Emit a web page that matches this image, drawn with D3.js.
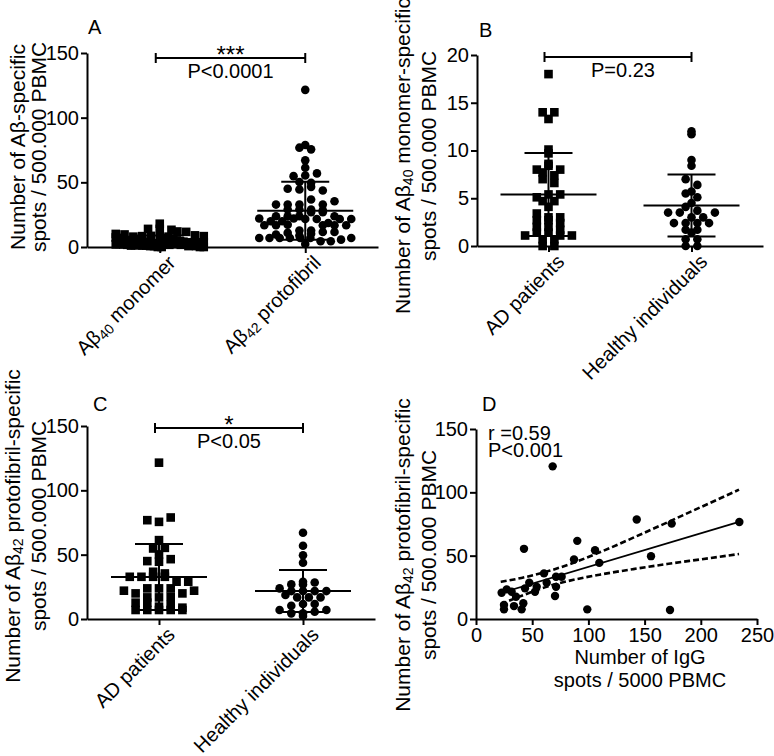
<!DOCTYPE html>
<html>
<head>
<meta charset="utf-8">
<script src="https://cdn.jsdelivr.net/npm/d3@7"></script>
<style>
body { margin: 0; background: #fff; }
svg { font-family: "Liberation Sans", Arial, sans-serif; }
</style>
</head>
<body>
<svg id="chart" width="774" height="756"></svg>
<script>
// Abeta40 monomer-specific spots (panel B), per group
const monomerAD = [18.0, 14.0, 14.0, 13.3, 10.1, 9.7, 8.0, 8.4, 8.6, 7.7, 8.0, 7.4, 7.0, 6.6,
	5.1, 4.7, 5.4, 5.4, 4.7, 4.1, 3.4, 3.0, 2.7, 2.7, 3.0, 2.0, 2.4, 2.0, 1.7, 1.1, 1.4, 1.4,
	1.1, 1.1, 0.7, 0.7, 0, 0];
const monomerHealthy = [12.0, 11.7, 9.0, 8.4, 7.0, 6.4, 5.7, 5.5, 5.1, 4.5, 4.1, 3.5, 3.5, 3.0,
	3.0, 3.5, 3.7, 2.4, 1.7, 2.4, 2.4, 1.7, 2.4, 0.7, 1.4, 0.7, 0, 0];

// Abeta42 protofibril-specific spots (panel C), per group
const protoAD = [121.5, 76.8, 75.5, 78.9, 61.3, 50.2, 54.8, 55.3, 45.0, 44.5, 46.5, 32.8, 32.8,
	32.8, 36.7, 32.8, 35.4, 29.0, 29.0, 22.0, 19.9, 23.8, 23.8, 23.8, 19.9, 22.0, 16.8, 16.8,
	17.3, 12.7, 12.7, 9.6, 7.0, 7.0, 10.9, 7.0, 7.0, 7.0, 8.8];
const protoHealthy = [67.0, 56.9, 49.6, 43.7, 29.0, 26.9, 26.9, 28.4, 23.8, 21.7, 21.7, 18.6,
	16.8, 16.8, 16.8, 21.7, 21.7, 10.3, 11.6, 11.6, 7.0, 4.4, 2.3, 4.4, 5.7, 7.0];

// mean and SD bars as drawn
const meanA = [4.9, 28.1], sdA = [3.9, 22.4];
const meanB = [5.4, 4.25], sdB = [4.35, 3.25];
const meanC = [32.6, 21.7], sdC = [25.6, 16.3];

// panel D: IgG spots vs protofibril spots
const iggSpots = [68.2, 42.7, 90.1, 105.9, 109.7, 87.2, 60.5, 71.2, 76.2, 47.4, 62.9, 22.8, 27.3,
	31.7, 43.6, 35.6, 52.5, 54.0, 71.2, 70.3, 24.9, 24.9, 33.8, 40.6, 42.1, 99.0, 143.0, 174.1,
	234.3, 155.7, 172.6];
const protoSpotsD = [120.5, 55.4, 61.7, 54.3, 44.3, 47.0, 36.0, 33.3, 33.3, 28.6, 28.6, 20.7, 23.4,
	21.5, 24.2, 17.6, 21.5, 25.4, 25.4, 18.1, 11.0, 7.6, 10.2, 7.6, 12.4, 7.6, 78.5, 75.3,
	76.6, 49.6, 7.1];

// regression line and 95% band
const fitX = [22, 234];
const fitY = [20.5, 76.7];
const bandX = [22, 44, 66, 88, 110, 140, 170, 200, 234];
const bandUpper = [29.3, 33.1, 38.2, 44.8, 52.6, 64.2, 76.2, 88.3, 102.1];
const bandLower = [11.7, 19.5, 26.3, 31.2, 35.0, 39.4, 43.4, 47.1, 51.3];

const ticks150 = [0, 50, 100, 150];
const ticks20 = [0, 5, 10, 15, 20];
const ticksD = [0, 50, 100, 150, 200, 250];

const svg = d3.select("#chart");
const FONT = 20;

// text with "_{..}" subscripts
function rich(t, str) {
	const parts = str.split(/(_\{[^}]*\})/).filter(function(s) { return s.length; });
	let shifted = false;
	parts.forEach(function(p) {
		if (p.startsWith("_{")) {
			t.append("tspan").attr("font-size", 14).attr("dy", 3).text(p.slice(2, -1));
			shifted = true;
		} else {
			t.append("tspan").attr("dy", shifted ? -3 : 0).text(p);
			shifted = false;
		}
	});
	return t;
}

function styleAxis(g) {
	g.selectAll("path, line").attr("stroke", "#000").attr("stroke-width", 2);
	g.selectAll("text").attr("font-size", FONT).attr("fill", "#000")
		.attr("font-family", "Liberation Sans, Arial, sans-serif");
}

// simple row based scatter layout
function swarm(values, y, cx, rowH, step, maxHalf) {
	const out = new Array(values.length);
	const rows = d3.group(values.map(function(v, i) { return {v: v, i: i}; }),
		function(d) { return Math.round(y(d.v) / rowH); });
	rows.forEach(function(pts) {
		const n = pts.length;
		const s = n > 1 ? Math.min(step, 2 * maxHalf / (n - 1)) : 0;
		pts.forEach(function(p, j) {
			out[p.i] = {x: cx + (j - (n - 1) / 2) * s, y: y(p.v)};
		});
	});
	return out;
}

function drawMarks(g, pts, shape, size) {
	if (shape === "square") {
		g.selectAll(null).data(pts).enter().append("rect")
			.attr("x", function(d) { return d.x - size / 2; })
			.attr("y", function(d) { return d.y - size / 2; })
			.attr("width", size).attr("height", size)
			.attr("fill", "#000");
	} else {
		g.selectAll(null).data(pts).enter().append("circle")
			.attr("cx", function(d) { return d.x; })
			.attr("cy", function(d) { return d.y; })
			.attr("r", size / 2)
			.attr("fill", "#000");
	}
}

function titleY(lines, xs, cy) {
	lines.forEach(function(l, i) {
		rich(svg.append("text")
			.attr("transform", "translate(" + xs[i] + "," + cy + ") rotate(-90)")
			.attr("text-anchor", "middle")
			.attr("font-size", 21), l);
	});
}

function catPanel(c) {
	const x = d3.scalePoint().domain(c.cats).range([c.x0, c.x1]).padding(0.5);
	const y = d3.scaleLinear().domain([0, c.max]).range([c.yBot, c.yTop]);
	const g = svg.append("g");

	g.append("g").attr("transform", "translate(0," + c.yBot + ")")
		.call(d3.axisBottom(x).tickSize(6).tickSizeOuter(0).tickFormat(""))
		.call(styleAxis);
	g.append("g").attr("transform", "translate(" + c.x0 + ",0)")
		.call(d3.axisLeft(y).tickValues(c.ticks).tickSize(6).tickPadding(2).tickSizeOuter(0))
		.call(styleAxis);

	c.cats.forEach(function(cat, i) {
		const cx = x(cat);
		drawMarks(g, swarm(c.data[i], y, cx, 6.5, 11.7, c.maxHalf[i]), c.shapes[i], 8.6);
		const lo = y(c.means[i] - c.sds[i]), hi = y(c.means[i] + c.sds[i]);
		const bars = g.append("g").attr("stroke", "#000").attr("stroke-width", 2);
		bars.append("line").attr("x1", cx).attr("x2", cx).attr("y1", lo).attr("y2", hi);
		[lo, hi].forEach(function(yy) {
			bars.append("line").attr("x1", cx - 24).attr("x2", cx + 24).attr("y1", yy).attr("y2", yy);
		});
		bars.append("line").attr("x1", cx - 48).attr("x2", cx + 48)
			.attr("y1", y(c.means[i])).attr("y2", y(c.means[i]));

		rich(g.append("text")
			.attr("transform", "translate(" + (cx + 17) + "," + (c.yBot + 17) + ") rotate(-45)")
			.attr("text-anchor", "end")
			.attr("font-size", FONT), c.catLabels[i]);
	});

	// significance bracket
	const x1 = x(c.cats[0]) - 4, x2 = x(c.cats[1]);
	const br = g.append("g").attr("stroke", "#000").attr("stroke-width", 2);
	br.append("line").attr("x1", x1).attr("x2", x2).attr("y1", c.brY).attr("y2", c.brY);
	[x1, x2].forEach(function(xx) {
		br.append("line").attr("x1", xx).attr("x2", xx).attr("y1", c.brY - 5).attr("y2", c.brY + 5);
	});
	const mid = (x1 + x2) / 2;
	if (c.star) g.append("text").attr("x", mid).attr("y", c.brY + 5).attr("text-anchor", "middle")
		.attr("font-size", 24).text(c.star);
	g.append("text").attr("x", mid + c.pDx).attr("y", c.brY + 20).attr("text-anchor", "middle")
		.attr("font-size", FONT).text(c.pText);

	g.append("text").attr("x", c.labelX).attr("y", c.labelY).attr("font-size", FONT).text(c.label);
	titleY(c.titles, c.titleX, c.titleCy);
}

catPanel({
	label: "A", labelX: 88, labelY: 34,
	x0: 87, x1: 378, yTop: 53, yBot: 247, max: 150, ticks: ticks150,
	cats: ["mono", "proto"], catLabels: ["Aβ_{40} monomer", "Aβ_{42} protofibril"],
	data: [monomerAD.concat(monomerHealthy), protoAD.concat(protoHealthy)],
	shapes: ["square", "circle"], maxHalf: [44, 46],
	means: meanA, sds: sdA,
	brY: 58, star: "***", pText: "P<0.0001", pDx: 0,
	titles: ["Number of Aβ-specific", "spots / 500.000 PBMC"], titleX: [25, 46], titleCy: 147
});

catPanel({
	label: "B", labelX: 479, labelY: 37,
	x0: 477, x1: 763, yTop: 55, yBot: 246, max: 20, ticks: ticks20,
	cats: ["AD", "HI"], catLabels: ["AD patients", "Healthy individuals"],
	data: [monomerAD, monomerHealthy],
	shapes: ["square", "circle"], maxHalf: [40, 40],
	means: meanB, sds: sdB,
	brY: 57, star: null, pText: "P=0.23", pDx: 5,
	titles: ["Number of Aβ_{40} monomer-specific", "spots / 500.000 PBMC"], titleX: [410, 436], titleCy: 156
});

catPanel({
	label: "C", labelX: 93, labelY: 411,
	x0: 87, x1: 375, yTop: 426, yBot: 619, max: 150, ticks: ticks150,
	cats: ["AD", "HI"], catLabels: ["AD patients", "Healthy individuals"],
	data: [protoAD, protoHealthy],
	shapes: ["square", "circle"], maxHalf: [40, 44],
	means: meanC, sds: sdC,
	brY: 428, star: "*", pText: "P<0.05", pDx: 0,
	titles: ["Number of Aβ_{42} protofibril-specific", "spots / 500.000 PBMC"], titleX: [20, 46], titleCy: 526
});

// panel D
(function() {
	const x = d3.scaleLinear().domain([0, 250]).range([476, 757]);
	const y = d3.scaleLinear().domain([0, 150]).range([619, 429]);
	const g = svg.append("g");

	g.append("g").attr("transform", "translate(0,619)")
		.call(d3.axisBottom(x).tickValues(ticksD).tickSize(6).tickPadding(3).tickSizeOuter(0))
		.call(styleAxis);
	g.append("g").attr("transform", "translate(476,0)")
		.call(d3.axisLeft(y).tickValues(ticks150).tickSize(6).tickPadding(2).tickSizeOuter(0))
		.call(styleAxis);

	g.selectAll(null).data(iggSpots).enter().append("circle")
		.attr("cx", function(d) { return x(d); })
		.attr("cy", function(d, i) { return y(protoSpotsD[i]); })
		.attr("r", 4.2)
		.attr("fill", "#000");

	const line = d3.line()
		.x(function(d) { return x(d[0]); })
		.y(function(d) { return y(d[1]); });
	const band = d3.line()
		.x(function(d) { return x(d[0]); })
		.y(function(d) { return y(d[1]); })
		.curve(d3.curveMonotoneX);

	g.append("path").attr("d", line(d3.zip(fitX, fitY)))
		.attr("fill", "none").attr("stroke", "#000").attr("stroke-width", 1.8);
	[bandUpper, bandLower].forEach(function(b) {
		g.append("path").attr("d", band(d3.zip(bandX, b)))
			.attr("fill", "none").attr("stroke", "#000").attr("stroke-width", 2.6)
			.attr("stroke-dasharray", "6,3");
	});

	g.append("text").attr("x", 488).attr("y", 440).attr("font-size", FONT).text("r =0.59");
	g.append("text").attr("x", 488).attr("y", 457).attr("font-size", FONT).text("P<0.001");
	g.append("text").attr("x", 482).attr("y", 411).attr("font-size", FONT).text("D");

	g.append("text").attr("x", 640).attr("y", 664).attr("text-anchor", "middle")
		.attr("font-size", FONT).text("Number of IgG");
	g.append("text").attr("x", 640).attr("y", 687).attr("text-anchor", "middle")
		.attr("font-size", FONT).text("spots / 5000 PBMC");

	titleY(["Number of Aβ_{42} protofibril-specific", "spots / 500.000 PBMC"], [410, 436], 555);
})();
</script>
</body>
</html>
